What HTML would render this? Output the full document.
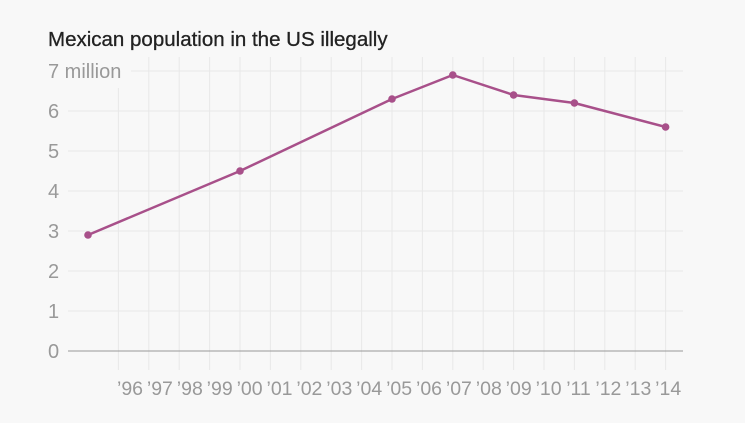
<!DOCTYPE html>
<html><head><meta charset="utf-8"><style>
body{margin:0;background:#f8f8f8;}
svg{display:block;font-family:"Liberation Sans",sans-serif;}
</style></head><body>
<svg width="745" height="423">
<rect width="745" height="423" fill="#f8f8f8"/>
<text x="48" y="46" font-size="20.5" fill="#222" stroke="#222" stroke-width="0.3">Mexican population in the US illegally</text>
<g id="grid"></g><g id="axes"></g><g id="series"></g>
</svg>
<script>
const years=[1995,2000,2005,2007,2009,2011,2014];
const values=[2.9,4.5,6.3,6.9,6.4,6.2,5.6];
const yTicks=[0,1,2,3,4,5,6,7];
const xTickYears=[1996,1997,1998,1999,2000,2001,2002,2003,2004,2005,2006,2007,2008,2009,2010,2011,2012,2013,2014];
const NS="http://www.w3.org/2000/svg";
const X=y=>88+(y-1995)*30.4;
const Y=v=>351-v*40;
const LX=y=>130+(y-1996)*29.9;
function mk(tag,at,parent){const e=document.createElementNS(NS,tag);for(const k in at)e.setAttribute(k,at[k]);document.getElementById(parent).appendChild(e);return e;}
xTickYears.forEach(y=>{
 const l=mk('line',{x1:X(y),x2:X(y),y1:X(y)<125?88:57,y2:370,stroke:'#e8e8e8','stroke-width':1},'grid');
 
 
 const t=mk('text',{x:LX(y),y:395,'text-anchor':'middle','font-size':19.5,fill:'#999'},'axes');
 t.textContent="\u2019"+String(y).slice(2);
 
 
});
yTicks.forEach(v=>{
 if(v>0){const l=mk('line',{x1:v==7?131:68,x2:683,y1:Y(v),y2:Y(v),stroke:'#e8e8e8','stroke-width':1},'grid');
 
 }
 const t=mk('text',{x:48,y:Y(v)+7,'font-size':20,fill:'#999'},'axes');
 t.textContent=v==7?'7 million':String(v);
 
 
});
const base=mk('line',{x1:68,x2:683,y1:Y(0),y2:Y(0),stroke:'#999','stroke-width':1},'axes');


const p=mk('polyline',{points:years.map((y,i)=>X(y)+','+Y(values[i])).join(' '),fill:'none',stroke:'#a8508a','stroke-width':2.5,'stroke-linejoin':'round'},'series');


years.forEach((y,i)=>{
 const c=mk('circle',{cx:X(y),cy:Y(values[i]),r:3.8,fill:'#a8508a'},'series');
 
 
});
</script>
</body></html>
